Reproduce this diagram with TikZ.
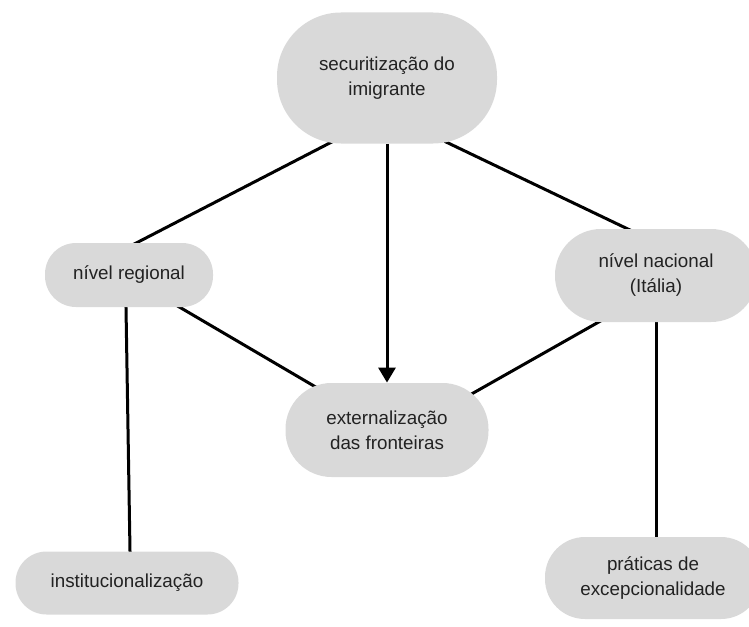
\documentclass[tikz,border=0pt]{standalone}
\usepackage{fontspec}
\setmainfont{Liberation Sans}
\usetikzlibrary{arrows.meta,backgrounds}
\definecolor{cinza}{HTML}{D9D9D9}
\definecolor{texto}{HTML}{222222}
\begin{document}
\begin{tikzpicture}[x=0.5pt,y=-0.5pt,align=center]
\tikzstyle{bloco}=[fill=cinza, text=texto, inner sep=0pt, font=\fontsize{9.4}{12.5}\selectfont]
\tikzstyle{ligacao}=[line width=1.5pt, black, shorten <=-3pt, shorten >=-3pt]
\useasboundingbox (0,0) rectangle (749,626);
\node[bloco, minimum width=110pt, minimum height=65.5pt, rounded corners=32pt] (secur) at (387,78) {securitização do\\imigrante};
\node[bloco, minimum width=84pt, minimum height=32pt, rounded corners=15.5pt] (regional) at (129,275) {nível regional};
\node[bloco, minimum width=101pt, minimum height=46.5pt, rounded corners=23pt] (nacional) at (656,275.5) {nível nacional\\(Itália)};
\node[bloco, minimum width=101.5pt, minimum height=47pt, rounded corners=23pt] (extern) at (387,430) {externalização\\das fronteiras};
\node[bloco, minimum width=111.5pt, minimum height=31.5pt, rounded corners=15.5pt] (instit) at (127,583) {institucionalização};
\node[bloco, minimum width=108pt, minimum height=41pt, rounded corners=20pt] (praticas) at (653,578) {práticas de\\excepcionalidade};
% ligacoes
\begin{scope}[on background layer]
\draw[ligacao] ([xshift=-29.5pt]secur.south) -- ([xshift=4pt]regional.north);
\draw[ligacao] ([xshift=31.5pt]secur.south) -- ([xshift=-14.5pt]nacional.north);
\draw[ligacao] ([xshift=25.5pt]regional.south) -- ([xshift=-36pt,yshift=-2pt]extern.north);
\draw[ligacao] ([xshift=-29pt]nacional.south) -- ([xshift=43.5pt,yshift=-5pt]extern.north);
\draw[ligacao] ([xshift=-1.5pt]regional.south) -- ([xshift=1.5pt]instit.north);
\draw[ligacao] (nacional.south) -- ([xshift=1.5pt]praticas.north);
\end{scope}
\draw[line width=1.5pt, -{Triangle[width=8.5pt,length=7.5pt]}] (secur.south) -- (extern.north);
\end{tikzpicture}
\end{document}
